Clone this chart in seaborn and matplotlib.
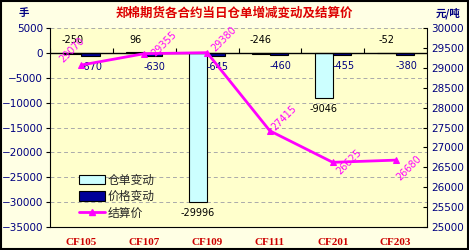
import numpy as np
import pandas as pd
import matplotlib
matplotlib.use("Agg")
import matplotlib.pyplot as plt
import seaborn as sns
from matplotlib.patches import Patch, Rectangle
from matplotlib.lines import Line2D

# ---------------- data ----------------
contracts = ["CF105", "CF107", "CF109", "CF111", "CF201", "CF203"]
warrant_change = [-250, 96, -29996, -246, -9046, -52]
price_change = [-670, -630, -645, -460, -455, -380]
settle_price = [29070, 29355, 29380, 27415, 26625, 26680]
series_names = ["仓单变动", "价格变动", "结算价"]
title_text = "郑棉期货各合约当日仓单增减变动及结算价"
left_unit = "手"
right_unit = "元/吨"

sns.set_theme(style="white")
plt.rcParams["font.family"] = ["Noto Sans CJK SC", "DejaVu Sans"]

BG_OUT = "#FFFFE4"
BG_IN = "#FFFFCC"
NAVY = "#000080"
CYAN = "#CCFFFF"
BLUE = "#000099"
MAGENTA = "#FF00FF"

df = pd.DataFrame({
    "contract": contracts * 2,
    "value": warrant_change + price_change,
    "series": [series_names[0]] * 6 + [series_names[1]] * 6,
})

fig = plt.figure(figsize=(4.69, 2.5), dpi=100, facecolor=BG_OUT)
ax = fig.add_axes([50 / 469, 1 - 227 / 250, 377 / 469, 199 / 250])
ax.set_facecolor(BG_IN)

sns.barplot(data=df, x="contract", y="value", hue="series", ax=ax,
            palette=[CYAN, BLUE], width=0.58, edgecolor="black",
            linewidth=0.8, legend=False, saturation=1)

ax.set_ylim(-35000, 5000)
ax.set_yticks(np.arange(-35000, 5001, 5000))
ax.set_xlim(-0.5, 5.5)
for y in np.arange(-30000, 5001, 5000):
    if y != 0:
        ax.axhline(y, color="#AAAAAA", lw=0.7, ls=(0, (4, 3)), zorder=0)
ax.axhline(0, color="black", lw=1.0, zorder=3)
ax.vlines(np.arange(-0.5, 6.0, 1.0), 0, 900, color="black", lw=0.8, zorder=3)

ax.set_xlabel("")
ax.set_ylabel("")
ax.tick_params(axis="x", length=0, pad=8)
ax.tick_params(axis="y", length=3, width=0.8, color="black", direction="out",
               left=True, pad=2)
for lab in ax.get_xticklabels():
    lab.set_fontfamily("Liberation Serif")
    lab.set_fontweight("bold")
    lab.set_color("#CC0000")
    lab.set_fontsize(8)
for lab in ax.get_yticklabels():
    lab.set_color(NAVY)
    lab.set_fontsize(7.5)
    lab.set_fontfamily("DejaVu Sans")

for s in ["left", "bottom", "right"]:
    ax.spines[s].set_visible(True)
    ax.spines[s].set_color("black")
    ax.spines[s].set_linewidth(0.8)
ax.spines["top"].set_visible(False)

# bar labels
bars = ax.patches
w_bars = bars[:6]
p_bars = bars[6:12]
for b, v in zip(w_bars, warrant_change):
    xc = b.get_x() + b.get_width() / 2
    if v > -3000:
        ax.annotate(f"{v}", (xc, 0), xytext=(0, 9), textcoords="offset points",
                    ha="center", va="center", fontsize=7, color="black",
                    fontfamily="DejaVu Sans")
    else:
        ax.annotate(f"{v}", (xc, v), xytext=(0, -8), textcoords="offset points",
                    ha="center", va="center", fontsize=7, color="black",
                    fontfamily="DejaVu Sans")
for b, v in zip(p_bars, price_change):
    xc = b.get_x() + b.get_width() / 2
    ax.annotate(f"{v}", (xc, v), xytext=(1, -8), textcoords="offset points",
                ha="center", va="center", fontsize=7, color=NAVY,
                fontfamily="DejaVu Sans")

# price line on secondary axis
ax2 = ax.twinx()
xs = np.arange(len(contracts))
sns.lineplot(x=xs, y=settle_price, ax=ax2, color=MAGENTA, lw=2.0,
             marker="^", markersize=5, markeredgecolor=MAGENTA, zorder=5)
ax2.set_ylim(25000, 30000)
ax2.set_yticks(np.arange(25000, 30001, 500))
ax2.tick_params(axis="y", length=3, width=0.8, color="black", direction="in",
                right=True, pad=3)
for lab in ax2.get_yticklabels():
    lab.set_color(NAVY)
    lab.set_fontsize(7.5)
    lab.set_fontfamily("DejaVu Sans")
for s in ax2.spines.values():
    s.set_visible(False)
ax2.grid(False)

label_offsets = [(-7, 11), (14, 7), (12, 10), (10, 9), (12, 0), (10, -6)]
for x, p, off in zip(xs, settle_price, label_offsets):
    ax2.annotate(f"{p}", (x, p), xytext=off, textcoords="offset points",
                 ha="center", va="center", rotation=45, fontsize=7,
                 color=MAGENTA, fontfamily="DejaVu Sans")

# legend
handles = [
    Patch(facecolor=CYAN, edgecolor="black", linewidth=0.8),
    Patch(facecolor=BLUE, edgecolor="black", linewidth=0.8),
    Line2D([], [], color=MAGENTA, lw=2.0, marker="^", markersize=5),
]
leg = ax2.legend(handles, series_names, loc="upper left",
                 bbox_to_anchor=(0.055, 0.31), frameon=False, fontsize=8.5,
                 handlelength=2.2, handleheight=0.8, handletextpad=0.2,
                 labelspacing=0.3, borderpad=0.2)

fig.text(0.5, 1 - 13 / 250, title_text, ha="center", va="center",
         color="#DD0000", fontsize=9, fontweight="bold")
fig.text(24 / 469, 1 - 13 / 250, left_unit, ha="center", va="center",
         color=NAVY, fontsize=7.5, fontweight="bold")
fig.text(448 / 469, 1 - 13 / 250, right_unit, ha="center", va="center",
         color=NAVY, fontsize=7.5, fontweight="bold")

fig.patches.append(Rectangle((0.003, 0.005), 0.994, 0.99, transform=fig.transFigure,
                             fill=False, edgecolor="black", lw=1.5))

fig.savefig("out.png", dpi=100, facecolor=BG_OUT)
